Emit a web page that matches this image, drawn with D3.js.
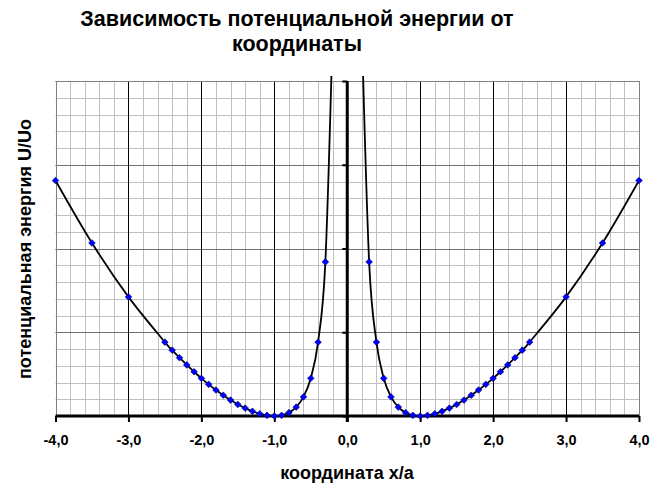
<!DOCTYPE html>
<html>
<head>
<meta charset="utf-8">
<script src="https://cdn.jsdelivr.net/npm/d3@7"></script>
<style>
  html, body { margin: 0; padding: 0; background: #fff; }
  svg { display: block; }
  text { font-family: "Liberation Sans", Arial, sans-serif; font-weight: bold; fill: #000; }
</style>
</head>
<body>
<svg id="chart" width="661" height="486"></svg>
<script>
// Data (x/a and U/Uo)
const xLeft  = [-4.0, -3.5, -3.0, -2.5, -2.4, -2.3, -2.2, -2.1, -2.0, -1.9, -1.8, -1.7, -1.6, -1.5, -1.4, -1.3, -1.2, -1.1, -1.0, -0.9, -0.8, -0.7, -0.6, -0.5, -0.4, -0.3, -0.2];
const uLeft  = [14.06, 10.33, 7.11, 4.41, 3.93, 3.48, 3.05, 2.64, 2.25, 1.89, 1.55, 1.24, 0.95, 0.69, 0.47, 0.28, 0.13, 0.04, 0.00, 0.04, 0.20, 0.53, 1.14, 2.25, 4.41, 9.20, 23.04];
const xRight = [0.2, 0.3, 0.4, 0.5, 0.6, 0.7, 0.8, 0.9, 1.0, 1.1, 1.2, 1.3, 1.4, 1.5, 1.6, 1.7, 1.8, 1.9, 2.0, 2.1, 2.2, 2.3, 2.4, 2.5, 3.0, 3.5, 4.0];
const uRight = [23.04, 9.20, 4.41, 2.25, 1.14, 0.53, 0.20, 0.04, 0.00, 0.04, 0.13, 0.28, 0.47, 0.69, 0.95, 1.24, 1.55, 1.89, 2.25, 2.64, 3.05, 3.48, 3.93, 4.41, 7.11, 10.33, 14.06];
const xTicks = [-4, -3, -2, -1, 0, 1, 2, 3, 4];
const yMajor = [0, 5, 10, 15, 20];
const titleLines = ["Зависимость потенциальной энергии от", "координаты"];
const xTitle = "координата х/а";
const yTitle = "потенциальная энергия U/Uo";

const svg = d3.select("#chart");
const L = 55.5, R = 639, T = 81, B = 416;
const x = d3.scaleLinear().domain([-4, 4]).range([L, R]);
const y = d3.scaleLinear().domain([0, 20]).range([B, T]);

const loc = d3.formatLocale({decimal: ",", thousands: " ", grouping: [3], currency: ["", ""], minus: "-"});
const fmt = loc.format(".1f");

// minor grid
const minorX = d3.range(-4, 4.0001, 0.2).map(v => +v.toFixed(1));
const minorY = d3.range(0, 20.0001, 1);
const g = svg.append("g");
g.selectAll("line.mx").data(minorX).join("line")
  .attr("x1", d => Math.round(x(d)) + 0.5).attr("x2", d => Math.round(x(d)) + 0.5)
  .attr("y1", T).attr("y2", B).attr("stroke", "#c0c0c0").attr("stroke-width", 1);
g.selectAll("line.my").data(minorY).join("line")
  .attr("y1", d => Math.round(y(d)) + 0.5).attr("y2", d => Math.round(y(d)) + 0.5)
  .attr("x1", L).attr("x2", R).attr("stroke", "#c0c0c0").attr("stroke-width", 1);
// major grid
g.selectAll("line.My").data(yMajor).join("line")
  .attr("y1", d => Math.round(y(d)) + 0.5).attr("y2", d => Math.round(y(d)) + 0.5)
  .attr("x1", L).attr("x2", R).attr("stroke", "#707070").attr("stroke-width", 1);
g.selectAll("line.Mx").data(xTicks).join("line")
  .attr("x1", d => Math.round(x(d)) + 0.5).attr("x2", d => Math.round(x(d)) + 0.5)
  .attr("y1", T).attr("y2", B).attr("stroke", "#000").attr("stroke-width", 1);
// border
g.append("rect").attr("x", Math.round(L) + 0.5).attr("y", T + 0.5)
  .attr("width", Math.round(R) - Math.round(L)).attr("height", B - T)
  .attr("fill", "none").attr("stroke", "#808080");

// x axis
const xAxis = d3.axisBottom(x).tickValues(xTicks).tickFormat(fmt).tickSize(6).tickPadding(13);
const xa = svg.append("g").attr("transform", `translate(0,${B})`).call(xAxis);
xa.select(".domain").attr("stroke", "#000").attr("stroke-width", 3).attr("d", `M${L},0H${R}`);
xa.selectAll(".tick line").attr("stroke", "#000").attr("stroke-width", 2);
xa.selectAll(".tick text").attr("font-size", 14.5).attr("font-family", "Liberation Sans, Arial, sans-serif").attr("font-weight", "bold").attr("fill", "#000");

// y axis at x=0
const yAxis = d3.axisLeft(y).tickValues(yMajor).tickFormat("").tickSize(5);
const ya = svg.append("g").attr("transform", `translate(${x(0)},0)`).call(yAxis);
ya.select(".domain").attr("stroke", "#000").attr("stroke-width", 3).attr("d", `M0,${T}V${B + 6}`);
ya.selectAll(".tick line").attr("stroke", "#000").attr("stroke-width", 2);

// clip
svg.append("clipPath").attr("id", "clip").append("rect")
  .attr("x", L - 4).attr("y", T - 5).attr("width", R - L + 8).attr("height", B - T + 10);

const line = d3.line().x(d => x(d[0])).y(d => y(d[1])).curve(d3.curveCatmullRom.alpha(0));
const left = xLeft.map((v, i) => [v, uLeft[i]]);
const right = xRight.map((v, i) => [v, uRight[i]]);
const plot = svg.append("g").attr("clip-path", "url(#clip)");
[left, right].forEach(s => {
  plot.append("path").datum(s).attr("d", line).attr("fill", "none")
    .attr("stroke", "#000").attr("stroke-width", 1.8);
});
const marker = d3.symbol().type(d3.symbolSquare).size(22);
[left, right].forEach(s => {
  plot.selectAll(null).data(s.filter(d => d[1] <= 20)).join("path")
    .attr("d", marker)
    .attr("transform", d => `translate(${x(d[0])},${y(d[1])}) rotate(45)`)
    .attr("fill", "#0000ff").attr("stroke", "#000080").attr("stroke-width", 0.6);
});

// titles
svg.append("text").attr("y", 26).attr("text-anchor", "middle")
  .attr("font-size", 21.5).selectAll("tspan").data(titleLines).join("tspan")
  .attr("x", 297).attr("dy", (d, i) => i === 0 ? 0 : 25).text(d => d);
svg.append("text").attr("x", 347).attr("y", 479).attr("text-anchor", "middle")
  .attr("font-size", 18).text(xTitle);
svg.append("text").attr("transform", "translate(31,249) rotate(-90)").attr("text-anchor", "middle")
  .attr("font-size", 18).text(yTitle);
</script>
</body>
</html>
